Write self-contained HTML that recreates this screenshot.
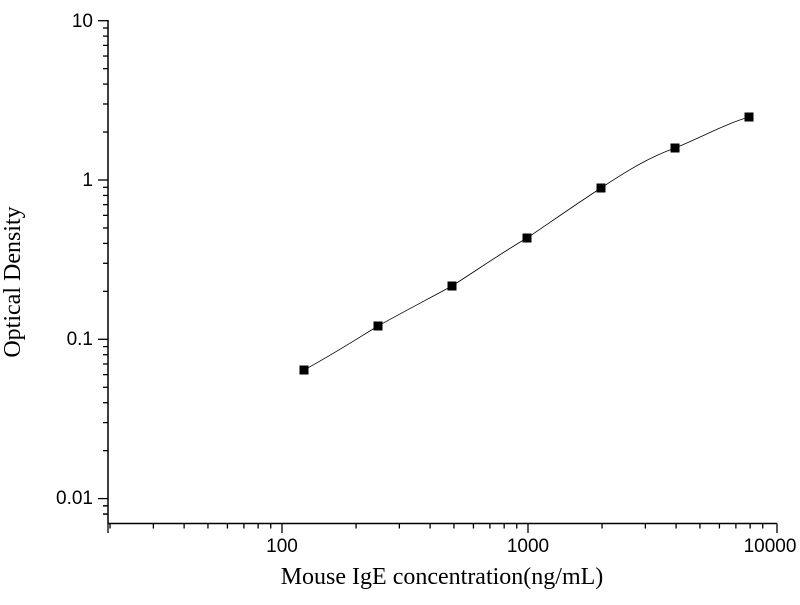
<!DOCTYPE html><html><head><style>body{margin:0;background:#fff}</style></head><body>
<svg width="800" height="600" xmlns="http://www.w3.org/2000/svg">
<g stroke="#000" stroke-width="1.5" fill="none">
<line x1="108" y1="20" x2="108" y2="523.5"/>
<line x1="108" y1="523.5" x2="777" y2="523.5"/>
</g>
<g id="t" stroke="#000" stroke-width="1.3"></g>
<g font-family="Liberation Sans, Arial, sans-serif" font-size="19" fill="#000">
<text x="93" y="27" text-anchor="end">10</text>
<text x="93" y="186" text-anchor="end">1</text>
<text x="93" y="345" text-anchor="end">0.1</text>
<text x="93" y="504" text-anchor="end">0.01</text>
<text x="282" y="552" text-anchor="middle">100</text>
<text x="528" y="552" text-anchor="middle">1000</text>
<text x="770" y="552" text-anchor="middle">10000</text>
</g>
<g font-family="Liberation Serif, Times New Roman, serif" font-size="24" fill="#000">
<text x="442" y="584" text-anchor="middle">Mouse IgE concentration(ng/mL)</text>
<text transform="translate(20,282) rotate(-90)" text-anchor="middle">Optical Density</text>
</g>
<path d="M304,370 C330,356 355,340 378,326 C405,311 430,298 452,286 C480,268 503,252 527,238 C555,219 578,203 601,188 C628,170 650,157 675,148 C700,138 725,124 749,117" stroke="#000" stroke-width="0.8" fill="none"/>
<g fill="#000">
<rect x="299.5" y="365.5" width="9" height="9"/>
<rect x="373.5" y="321.5" width="9" height="9"/>
<rect x="447.5" y="281.5" width="9" height="9"/>
<rect x="522.5" y="233.5" width="9" height="9"/>
<rect x="596.5" y="183.5" width="9" height="9"/>
<rect x="670.5" y="143.5" width="9" height="9"/>
<rect x="744.5" y="112.5" width="9" height="9"/>
</g>
</svg>
<script>
var g=document.getElementById('t'),s='';
function L(a,b,c,d){s+='<line x1="'+a+'" y1="'+b+'" x2="'+c+'" y2="'+d+'"/>';}
var y0=20.7,dy=159.3;
for(var d=0;d<4;d++){for(var k=1;k<=9;k++){var y=y0+dy*(d+1-Math.log10(k));if(k==1){L(98,y0+dy*d,108,y0+dy*d);}else if(y<523)L(103,y,108,y);}}
var y=y0+dy*(4-Math.log10(8));L(103,y,108,y);y=y0+dy*(4-Math.log10(9));L(103,y,108,y);
var x100=282,dx=246;
for(var d=-1;d<2;d++){for(var k=1;k<=9;k++){var x=x100+dx*(d+Math.log10(k));if(x<107)continue;L(x,523.5,x,k==1?533:528.5);}}
L(777,523.5,777,533);L(108,523.5,108,533);
g.innerHTML=s;
</script>
</body></html>
